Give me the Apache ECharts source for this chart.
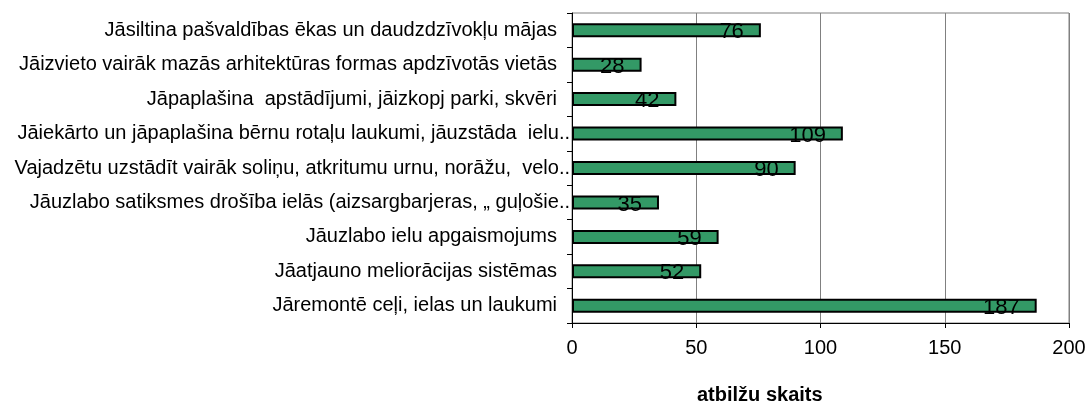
<!DOCTYPE html>
<html><head><meta charset="utf-8">
<script src="https://cdn.jsdelivr.net/npm/echarts@6/dist/echarts.min.js"></script>
<style>html,body{margin:0;padding:0;background:#fff}#c{width:1091px;height:405px}</style>
</head><body><div id="c"></div>
<script>
const categories = [
  "Jāsiltina pašvaldības ēkas un daudzdzīvokļu mājas",
  "Jāizvieto vairāk mazās arhitektūras formas apdzīvotās vietās",
  "Jāpaplašina  apstādījumi, jāizkopj parki, skvēri",
  "Jāiekārto un jāpaplašina bērnu rotaļu laukumi, jāuzstāda  ielu..",
  "Vajadzētu uzstādīt vairāk soliņu, atkritumu urnu, norāžu,  velo..",
  "Jāuzlabo satiksmes drošība ielās (aizsargbarjeras, „ guļošie..",
  "Jāuzlabo ielu apgaismojums",
  "Jāatjauno meliorācijas sistēmas",
  "Jāremontē ceļi, ielas un laukumi"
];
const values = [76, 28, 42, 109, 90, 35, 59, 52, 187];
const xTicks = { min: 0, max: 200, interval: 50 };
const axisName = "atbilžu skaits";

const FONT = 'Liberation Sans, Arial, sans-serif';
const chart = echarts.init(document.getElementById('c'), null, {renderer: 'canvas'});
chart.setOption({
  animation: false,
  textStyle: { fontFamily: FONT },
  title: {
    text: axisName, left: 697, top: 385, padding: 0,
    textStyle: { fontSize: 20, fontWeight: 'bold', color: '#000', fontFamily: FONT }
  },
  grid: { left: 572, right: 22, top: 13, bottom: 82, show: true, borderColor: '#808080', borderWidth: 1 },
  xAxis: {
    type: 'value', min: xTicks.min, max: xTicks.max, interval: xTicks.interval,
    axisLine: { show: true, lineStyle: { color: '#000', width: 1 } },
    axisTick: { show: true, length: 5, lineStyle: { color: '#000' } },
    axisLabel: { fontSize: 20, color: '#000', margin: 15, fontFamily: FONT },
    splitLine: { show: true, lineStyle: { color: '#808080', width: 1 } }
  },
  yAxis: {
    type: 'category', data: categories, inverse: true,
    axisLine: { show: true, lineStyle: { color: '#000', width: 1 } },
    axisTick: { show: true, length: 5, lineStyle: { color: '#000' } },
    axisLabel: {
      fontSize: 20, color: '#000', margin: 2, fontFamily: FONT,
      formatter: function (v) {
        if (v.endsWith('..')) return '{e|' + v + '}';
        return '{t|' + v + '}';
      },
      rich: {
        t: { fontSize: 20, color: '#000', fontFamily: FONT, padding: [0, 13, 0, 0] },
        e: { fontSize: 20, color: '#000', fontFamily: FONT }
      }
    },
    splitLine: { show: false }
  },
  series: [{
    type: 'bar', data: values, barWidth: 14,
    itemStyle: { color: '#339966', borderColor: '#000', borderWidth: 2 },
    label: { show: true, position: 'insideRight', distance: 17, offset: [0, 2], fontSize: 22, color: '#000', fontFamily: FONT }
  }]
});
</script></body></html>
